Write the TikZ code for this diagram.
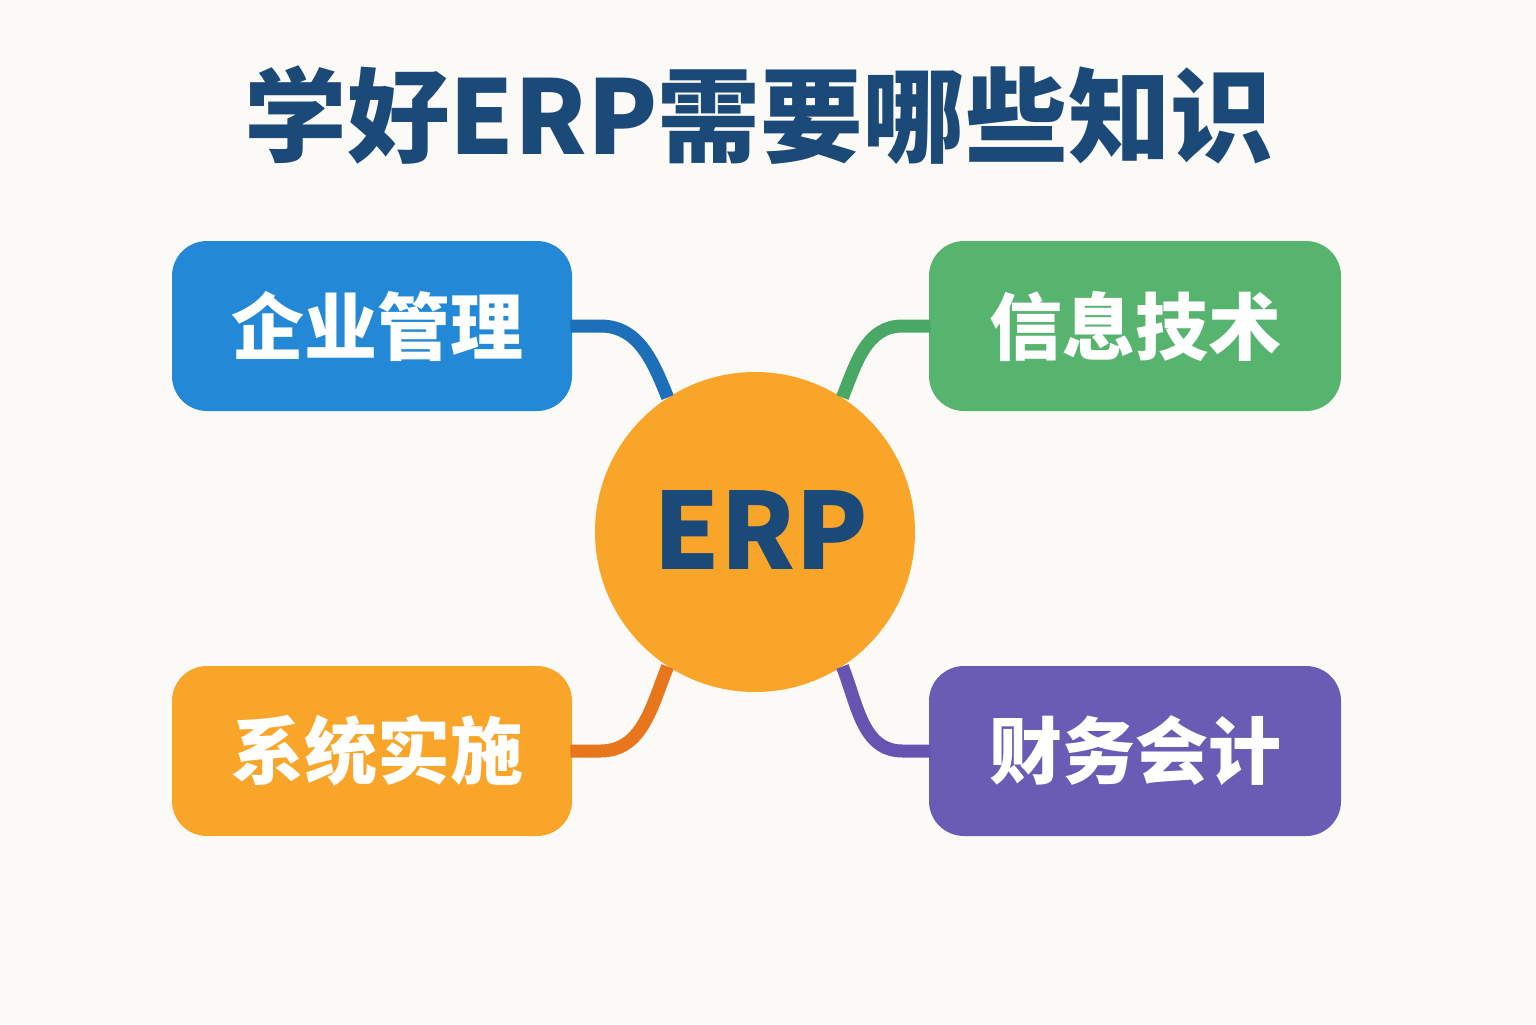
\documentclass[tikz,border=0pt]{standalone}
\usepackage{fontspec}
\newfontfamily\cjk{Noto Sans CJK SC}
\definecolor{bg}{HTML}{FBFAF6}
\definecolor{navy}{HTML}{1B4A78}
\definecolor{bluebox}{HTML}{2389D6}
\definecolor{blueln}{HTML}{1E6FBA}
\definecolor{greenbox}{HTML}{57B46F}
\definecolor{greenln}{HTML}{4AA866}
\definecolor{orangebox}{HTML}{F9A52A}
\definecolor{orangeln}{HTML}{E8761C}
\definecolor{purplebox}{HTML}{6A5CB4}
\definecolor{purpleln}{HTML}{6655B0}
\tikzset{
  topic/.style={rectangle, rounded corners=17.5pt, minimum width=200pt, minimum height=85pt,
    text=white, font=\cjk\bfseries\fontsize{36.5pt}{40pt}\selectfont, inner sep=0pt},
  link/.style={line width=6.5pt, line cap=butt}
}
\begin{document}
\begin{tikzpicture}[x=0.5pt,y=0.5pt]
\fill[bg] (0,0) rectangle (1536,-1024);
\useasboundingbox (0,0) rectangle (1536,-1024);
\node[text=navy, font=\cjk\bfseries\fontsize{51.3pt}{56pt}\selectfont, inner sep=0pt] (title) at (759,-115) {学好ERP需要哪些知识};
\node[circle, fill=orangebox, minimum size=160pt, inner sep=0pt, text=navy,
  font=\cjk\bfseries\fontsize{53pt}{58pt}\selectfont, text depth=0pt] (c) at (755,-532) {};
\node[text=navy, font=\cjk\bfseries\fontsize{53pt}{58pt}\selectfont, inner sep=0pt] (erp) at (761,-530) {ERP};
\node[topic, fill=bluebox] (b1) at (372,-326) {};
\node[text=white, font=\cjk\bfseries\fontsize{36.5pt}{40pt}\selectfont, inner sep=0pt] (t1) at (377,-326) {企业管理};
\node[topic, fill=greenbox, minimum width=206pt] (b2) at (1135,-326) {信息技术};
\node[topic, fill=orangebox] (b3) at (372,-751) {};
\node[text=white, font=\cjk\bfseries\fontsize{36.5pt}{40pt}\selectfont, inner sep=0pt] (t3) at (377,-751) {系统实施};
\node[topic, fill=purplebox, minimum width=206pt] (b4) at (1135,-751) {财务会计};
\draw[link, blueln] ([xshift=-1pt]b1.east) -- ++(30,0) to[out=0, in=112] (c.123);
\draw[link, greenln] ([xshift=1pt]b2.west) -- ++(-28,0) to[out=180, in=68] (c.57);
\draw[link, orangeln] ([xshift=-1pt]b3.east) -- ++(30,0) to[out=0, in=248] (c.237);
\draw[link, purpleln] ([xshift=1pt]b4.west) -- ++(-28,0) to[out=180, in=292] (c.303);
\end{tikzpicture}
\end{document}
